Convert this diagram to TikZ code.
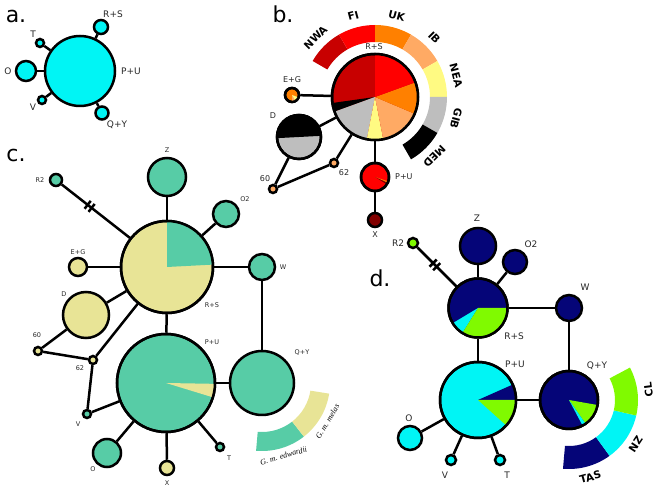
\documentclass[tikz,border=0pt]{standalone}
\usepackage{fontspec}
\setmainfont{DejaVu Sans}
\newfontfamily\legendfont{Liberation Serif}
\usepackage{tikz}

\definecolor{hcyan}{RGB}{0,245,245}
\definecolor{cgreen}{RGB}{87,204,166}
\definecolor{ckhaki}{RGB}{232,228,150}
\definecolor{dnavy}{RGB}{5,5,120}
\definecolor{dlime}{RGB}{128,250,0}
\definecolor{bdred}{RGB}{200,0,0}
\definecolor{bred}{RGB}{255,0,0}
\definecolor{borange}{RGB}{255,128,0}
\definecolor{blight}{RGB}{255,170,100}
\definecolor{byellow}{RGB}{255,250,130}
\definecolor{bgray}{RGB}{190,190,190}
\definecolor{bmaroon}{RGB}{130,0,0}

\tikzset{
  hap/.style={circle, draw, line width=2.5pt, inner sep=0pt, minimum size=#1},
  link/.style={line width=2.5pt},
  tag/.style={inner sep=0pt, text=black!85, font=\fontsize{#1}{#1}\selectfont},
  tag/.default=8,
  panel/.style={inner sep=0pt, font=\fontsize{22}{24}\selectfont},
  region/.style={inner sep=0pt, font=\bfseries\fontsize{10.5}{12}\selectfont},
  species/.style={inner sep=0pt, font=\legendfont\itshape\fontsize{8}{8}\selectfont}
}

% {node}{start}{end}{radius}{colour}
\newcommand{\wedgefill}[5]{\fill[#5] (#1.center) -- ++(#2:#4) arc[start angle=#2, end angle=#3, radius=#4] -- cycle;}
% {node}{start}{end}{inner}{outer}{colour}
\newcommand{\ringpart}[6]{\fill[#6] ([shift={(#2:#4)}]#1.center) arc[start angle=#2, end angle=#3, radius=#4] -- ([shift={(#3:#5)}]#1.center) arc[start angle=#3, end angle=#2, radius=#5] -- cycle;}

\begin{document}
\begin{tikzpicture}[x=1pt, y=1pt]
  \useasboundingbox (0,0) rectangle (656,487);

  % a.
  \node[panel] (alet) at (16,470) {a.};
  \node[hap=70pt, fill=hcyan] (aPU) at (80,416) {};
  \node[hap=14pt, fill=hcyan] (aRS) at (101,460) {};
  \node[hap=8pt, fill=hcyan] (aT) at (40,444) {};
  \node[hap=20pt, fill=hcyan] (aO) at (26,416) {};
  \node[hap=8pt, fill=hcyan] (aV) at (42,387) {};
  \node[hap=13pt, fill=hcyan] (aQY) at (102,374) {};
  \foreach \n in {aRS,aT,aO,aV,aQY} \draw[link] (aPU) -- (\n);
  \node[tag=9] (aRSl) at (113,473) {R+S};
  \node[tag=9] (aTl) at (33,453) {T};
  \node[tag=9] (aOl) at (8,416) {O};
  \node[tag=9] (aVl) at (33,380) {V};
  \node[tag=9] (aQYl) at (117,362) {Q+Y};
  \node[tag=9] (aPUl) at (131,416) {P+U};

  % b.
  \node[panel] (blet) at (283,473) {b.};
  \node[hap=86pt, fill=bdred] (bRS) at (375,390) {};
  \node[hap=14pt, fill=borange] (bEG) at (292,392) {};
  \node[hap=44pt, fill=bgray] (bD) at (299,350) {};
  \node[hap=8pt, fill=blight] (b60) at (273,298) {};
  \node[hap=8pt, fill=blight] (b62) at (334,324) {};
  \node[hap=28pt, fill=bred] (bPU) at (375,310) {};
  \node[hap=14pt, fill=bmaroon] (bX) at (375,267) {};
  \foreach \n in {bEG,bD,b62,bPU} \draw[link] (bRS) -- (\n);
  \draw[link] (bPU) -- (bX);
  \draw[link] (bD) -- (b60) -- (b62);
  \wedgefill{bRS}{188}{200}{43pt}{black}
  \wedgefill{bRS}{200}{259}{43pt}{bgray}
  \wedgefill{bRS}{259}{281}{43pt}{byellow}
  \wedgefill{bRS}{281}{337}{43pt}{blight}
  \wedgefill{bRS}{337}{380}{43pt}{borange}
  \wedgefill{bRS}{20}{90}{43pt}{bred}
  \draw[link] (bRS.center) circle[radius=43pt];
  \wedgefill{bD}{3}{183}{22pt}{black}
  \draw[link] (bD.center) circle[radius=22pt];
  \wedgefill{bEG}{-90}{-60}{7pt}{blight}
  \wedgefill{bEG}{-60}{-20}{7pt}{byellow}
  \draw[link] (bEG.center) circle[radius=7pt];
  \wedgefill{bPU}{-25}{-18}{14pt}{borange}
  \wedgefill{bPU}{-32}{-25}{14pt}{bmaroon}
  \draw[link] (bPU.center) circle[radius=14pt];
  \foreach \lab/\col [count=\i] in {NWA/bdred,FI/bred,UK/borange,IB/blight,NEA/byellow,GIB/bgray,MED/black}{
    \pgfmathsetmacro{\hi}{180-30*\i}
    \pgfmathsetmacro{\lo}{\hi-30}
    \pgfmathsetmacro{\mid}{\hi-15}
    \ringpart{bRS}{\lo}{\hi}{55pt}{72pt}{\col}
    \node[region, rotate=\mid-90] (bring\i) at ([shift={(\mid:84pt)}]bRS.center) {\lab};
  }
  \node[tag] (bRSl) at (374,440) {R+S};
  \node[tag] (bEGl) at (292,407) {E+G};
  \node[tag] (bDl) at (273,371) {D};
  \node[tag] (b60l) at (265,308) {60};
  \node[tag] (b62l) at (344,314) {62};
  \node[tag, anchor=west] (bPUl) at (395,310) {P+U};
  \node[tag] (bXl) at (375,252) {X};

  % c.
  \node[panel] (clet) at (16,332) {c.};
  \node[hap=92pt, fill=ckhaki] (cRS) at (167,220) {};
  \node[hap=38pt, fill=cgreen] (cZ) at (167,310) {};
  \node[hap=26pt, fill=cgreen] (cO2) at (226,273) {};
  \node[hap=26pt, fill=cgreen] (cW) at (262,220) {};
  \node[hap=64pt, fill=cgreen] (cQY) at (262,104) {};
  \node[hap=98pt, fill=cgreen] (cPU) at (166,104) {};
  \node[hap=12pt, fill=cgreen] (cR2) at (56,307) {};
  \node[hap=18pt, fill=ckhaki] (cEG) at (78,220) {};
  \node[hap=46pt, fill=ckhaki] (cD) at (86,172) {};
  \node[hap=8pt, fill=ckhaki] (c60) at (38,136) {};
  \node[hap=8pt, fill=ckhaki] (c62) at (93,127) {};
  \node[hap=8pt, fill=cgreen] (cV) at (87,73) {};
  \node[hap=28pt, fill=cgreen] (cO) at (107,34) {};
  \node[hap=14pt, fill=ckhaki] (cX) at (167,19) {};
  \node[hap=8pt, fill=cgreen] (cT) at (220,40) {};
  \foreach \n in {cZ,cO2,cW,cPU,cEG,cD,cR2,c62} \draw[link] (cRS) -- (\n);
  \draw[link] (cW) -- (cQY) -- (cPU);
  \draw[link] (cD) -- (c60) -- (c62) -- (cV) -- (cPU);
  \foreach \n in {cO,cX,cT} \draw[link] (cPU) -- (\n);
  \path (cR2) -- (cRS) coordinate[pos=0.41] (cbrk);
  \draw[link] ([shift={(-38:-2.5pt)}]cbrk) ++(52:5pt) -- ++(52:-10pt);
  \draw[link] ([shift={(-38:2.5pt)}]cbrk) ++(52:5pt) -- ++(52:-10pt);
  \wedgefill{cRS}{3}{90}{46pt}{cgreen}
  \draw[link] (cRS.center) circle[radius=46pt];
  \wedgefill{cPU}{-17}{-1}{49pt}{ckhaki}
  \draw[link] (cPU.center) circle[radius=49pt];
  \ringpart{cQY}{-95}{-52}{49pt}{68pt}{cgreen}
  \ringpart{cQY}{-52}{-9}{49pt}{68pt}{ckhaki}
  \node[species, rotate=16.5] (cedw) at ([shift={(-73.5:76pt)}]cQY.center) {G. m. edwardii};
  \node[species, rotate=59.5] (cmel) at ([shift={(-30.5:76pt)}]cQY.center) {G. m. melas};
  \node[tag=6.5] (cZl) at (167,337) {Z};
  \node[tag=6.5] (cO2l) at (245,288) {O2};
  \node[tag=6.5] (cWl) at (283,220) {W};
  \node[tag=6.5] (cRSl) at (212,182) {R+S};
  \node[tag=6.5] (cPUl) at (212,145) {P+U};
  \node[tag=6.5] (cQYl) at (302,134) {Q+Y};
  \node[tag=6.5] (cR2l) at (40,307) {R2};
  \node[tag=6.5] (cEGl) at (78,235) {E+G};
  \node[tag=6.5] (cDl) at (64,193) {D};
  \node[tag=6.5] (c60l) at (37,152) {60};
  \node[tag=6.5] (c62l) at (80,119) {62};
  \node[tag=6.5] (cVl) at (78,63) {V};
  \node[tag=6.5] (cOl) at (93,18) {O};
  \node[tag=6.5] (cXl) at (167,4) {X};
  \node[tag=6.5] (cTl) at (229,29) {T};

  % d.
  \node[panel] (dlet) at (380,209) {d.};
  \node[hap=59pt, fill=dnavy] (dRS) at (478,179) {};
  \node[hap=36pt, fill=dnavy] (dZ) at (478,241) {};
  \node[hap=24pt, fill=dnavy] (dO2) at (515,225) {};
  \node[hap=10pt, fill=dlime] (dR2) at (413,244) {};
  \node[hap=26pt, fill=dnavy] (dW) at (569,179) {};
  \node[hap=58pt, fill=dnavy] (dQY) at (569,87) {};
  \node[hap=76pt, fill=hcyan] (dPU) at (478,87) {};
  \node[hap=24pt, fill=hcyan] (dO) at (410,49) {};
  \node[hap=10pt, fill=hcyan] (dV) at (451,27) {};
  \node[hap=10pt, fill=hcyan] (dT) at (500,27) {};
  \foreach \n in {dZ,dO2,dR2,dW,dPU} \draw[link] (dRS) -- (\n);
  \draw[link] (dW) -- (dQY) -- (dPU);
  \foreach \n in {dO,dV,dT} \draw[link] (dPU) -- (\n);
  \path (dR2) -- (dRS) coordinate[pos=0.45] (dbrk);
  \draw[link] ([shift={(-45:-2.5pt)}]dbrk) ++(45:5pt) -- ++(45:-10pt);
  \draw[link] ([shift={(-45:2.5pt)}]dbrk) ++(45:5pt) -- ++(45:-10pt);
  \wedgefill{dRS}{211}{238}{29.5pt}{hcyan}
  \wedgefill{dRS}{238}{360}{29.5pt}{dlime}
  \draw[link] (dRS.center) circle[radius=29.5pt];
  \wedgefill{dPU}{0}{24}{38pt}{dnavy}
  \wedgefill{dPU}{-42}{0}{38pt}{dlime}
  \draw[link] (dPU.center) circle[radius=38pt];
  \wedgefill{dQY}{-55}{-10}{29pt}{dlime}
  \wedgefill{dQY}{-62}{-55}{29pt}{hcyan}
  \draw[link] (dQY.center) circle[radius=29pt];
  \foreach \lab/\col [count=\i] in {TAS/dnavy,NZ/hcyan,CL/dlime}{
    \pgfmathsetmacro{\lo}{-136+41*\i}
    \pgfmathsetmacro{\hi}{\lo+41}
    \pgfmathsetmacro{\mid}{\lo+20.5}
    \ringpart{dQY}{\lo}{\hi}{46pt}{69pt}{\col}
    \node[region, rotate=\mid+90] (dring\i) at ([shift={(\mid:80pt)}]dQY.center) {\lab};
  }
  \node[tag=9] (dZl) at (477,269) {Z};
  \node[tag=9] (dO2l) at (531,243) {O2};
  \node[tag=9] (dR2l) at (398,244) {R2};
  \node[tag=9] (dWl) at (585,200) {W};
  \node[tag=9] (dRSl) at (514,151) {R+S};
  \node[tag=9] (dPUl) at (515,123) {P+U};
  \node[tag=9] (dQYl) at (597,121) {Q+Y};
  \node[tag=9] (dOl) at (409,69) {O};
  \node[tag=9] (dVl) at (445,12) {V};
  \node[tag=9] (dTl) at (507,12) {T};
\end{tikzpicture}
\end{document}
